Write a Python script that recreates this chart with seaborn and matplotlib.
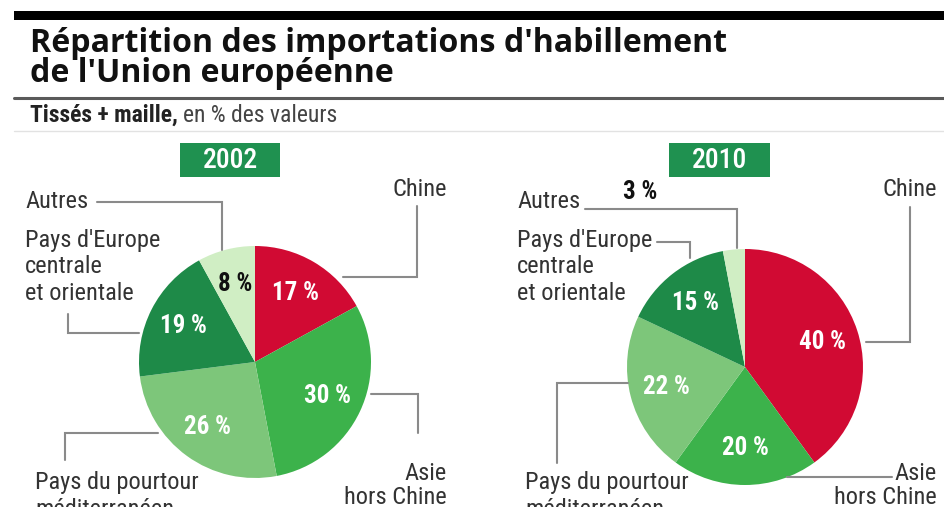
import matplotlib
matplotlib.use("Agg")
import matplotlib.pyplot as plt
from matplotlib.patches import Rectangle
from matplotlib import font_manager as fm
import seaborn as sns

# ---- data ----
categories = ["Chine", "Asie hors Chine", "Pays du pourtour méditerranéen",
              "Pays d'Europe centrale et orientale", "Autres"]
values_2002 = [17, 30, 26, 19, 8]
values_2010 = [40, 20, 22, 15, 3]
years = ["2002", "2010"]

colors = ["#d10a33", "#3cb24b", "#7dc67a", "#1e8a48", "#d0eec4"]
box_green = "#1f9150"
lead = "#8a8a8a"

sns.set_theme(style="white")


def have(name):
    try:
        fm.findfont(fm.FontProperties(family=name), fallback_to_default=False)
        return True
    except Exception:
        return False


cond_pref = [f for f in ["Roboto Condensed", "Liberation Sans Narrow",
                         "DejaVu Sans Condensed", "Open Sans Condensed"] if have(f)]
COND = cond_pref + ['DejaVu Sans']
TITLE = ['Open Sans', 'DejaVu Sans']
plt.rcParams['font.family'] = COND

W, H = 944, 528
fig = plt.figure(figsize=(9.44, 5.28), dpi=100)
fig.patch.set_facecolor("white")
ax = fig.add_axes([0, 0, 1, 1])
renderer = fig.canvas.get_renderer()


def Y(py):
    return H - py


def fit_size(s, target, base=15, **kw):
    t = ax.text(0, 0, s, fontsize=base, **kw)
    w = t.get_window_extent(renderer).width
    t.remove()
    return base * target / w


LBL = fit_size("Pays d'Europe", 136)
PCT = fit_size("17 %", 47, fontweight="bold")

pies = [(values_2002, (255, 362), 116), (values_2010, (745, 367), 118)]
for vals, (cx, cy), r in pies:
    wedges, texts, autos = ax.pie(
        vals, colors=colors, startangle=90, counterclock=False,
        center=(cx, Y(cy)), radius=r,
        autopct=lambda p: f"{p:.0f} %" if p >= 5 else "",
        pctdistance=0.69, wedgeprops=dict(linewidth=0),
        textprops=dict(color="white", fontsize=PCT, fontweight="bold",
                       family=COND))
    for v, t in zip(vals, autos):
        if v < 10:
            t.set_color("#111111")

ax.set_xlim(0, W)
ax.set_ylim(0, H)
ax.set_aspect("equal")
ax.axis("off")

# ---- header ----
ax.add_patch(Rectangle((14, Y(20)), W - 14, 9, color="black", lw=0))
ax.plot([14, W], [Y(98), Y(98)], color="#5a5a5a", lw=2.2)
ax.plot([14, W], [Y(131), Y(131)], color="#e2e2e2", lw=1)
TS = fit_size("Répartition des importations d'habillement", 698,
              family=TITLE, fontweight="bold")
ax.text(30, Y(43), "Répartition des importations d'habillement",
        family=TITLE, fontweight="bold", fontsize=TS, va="center", ha="left",
        color="#111111")
ax.text(30, Y(74), "de l'Union européenne",
        family=TITLE, fontweight="bold", fontsize=TS, va="center", ha="left",
        color="#111111")
SS = fit_size("Tissés + maille,", 148, fontweight="bold")
t1 = ax.text(30, Y(115), "Tissés + maille,", fontweight="bold", fontsize=SS,
             va="center", ha="left", color="#222222")
bb = t1.get_window_extent(renderer)
ax.text(bb.x1 + 5, Y(115), "en % des valeurs", fontsize=SS,
        va="center", ha="left", color="#444444")

# ---- year boxes ----
YS = fit_size("2002", 56, fontweight="medium")
for yr, (x0, x1) in zip(years, [(180, 280), (669, 770)]):
    ax.add_patch(Rectangle((x0, Y(177)), x1 - x0, 34, color=box_green, lw=0))
    ax.text((x0 + x1) / 2, Y(160), yr, color="white", fontsize=YS,
            fontweight="medium", ha="center", va="center")


def lines(x, y0, items, ha="left", step=26.5, **kw):
    for i, s in enumerate(items):
        ax.text(x, Y(y0 + i * step), s, ha=ha, va="center", fontsize=LBL,
                color="#333333", **kw)


def leader(pts):
    ax.plot([p[0] for p in pts], [Y(p[1]) for p in pts], color=lead, lw=1.5,
            solid_joinstyle="miter")


# pie 2002 labels
lines(447, 190, ["Chine"], ha="right")
leader([(343, 277), (417, 277), (417, 206)])
lines(25, 202, ["Autres"])
leader([(97, 202), (222, 202), (222, 250)])
lines(25, 240, ["Pays d'Europe", "centrale", "et orientale"])
leader([(68, 314), (68, 333), (139, 333)])
lines(35, 483, ["Pays du pourtour", "méditerranéen"])
leader([(65, 460), (65, 433), (158, 433)])
lines(447, 473, ["Asie", "hors Chine"], ha="right", step=24)
leader([(371, 394), (418, 394), (418, 433)])

# pie 2010 labels
lines(937, 190, ["Chine"], ha="right")
leader([(866, 342), (910, 342), (910, 207)])
lines(517, 202, ["Autres"])
ax.text(640, Y(192), f"{values_2010[-1]} %", fontsize=PCT, fontweight="bold",
        ha="center", va="center", color="#111111")
leader([(585, 209), (737, 209), (737, 248)])
lines(517, 240, ["Pays d'Europe", "centrale", "et orientale"])
leader([(657, 242), (690, 242), (690, 258)])
lines(525, 483, ["Pays du pourtour", "méditerranéen"])
leader([(557, 463), (557, 383), (628, 383)])
lines(937, 473, ["Asie", "hors Chine"], ha="right", step=24)
leader([(787, 477), (892, 477)])

# cropped bottom edge as in the original clipping
ax.add_patch(Rectangle((0, 0), W, Y(507), color="white", lw=0, zorder=10))

fig.savefig("out.png", dpi=100, facecolor="white")
